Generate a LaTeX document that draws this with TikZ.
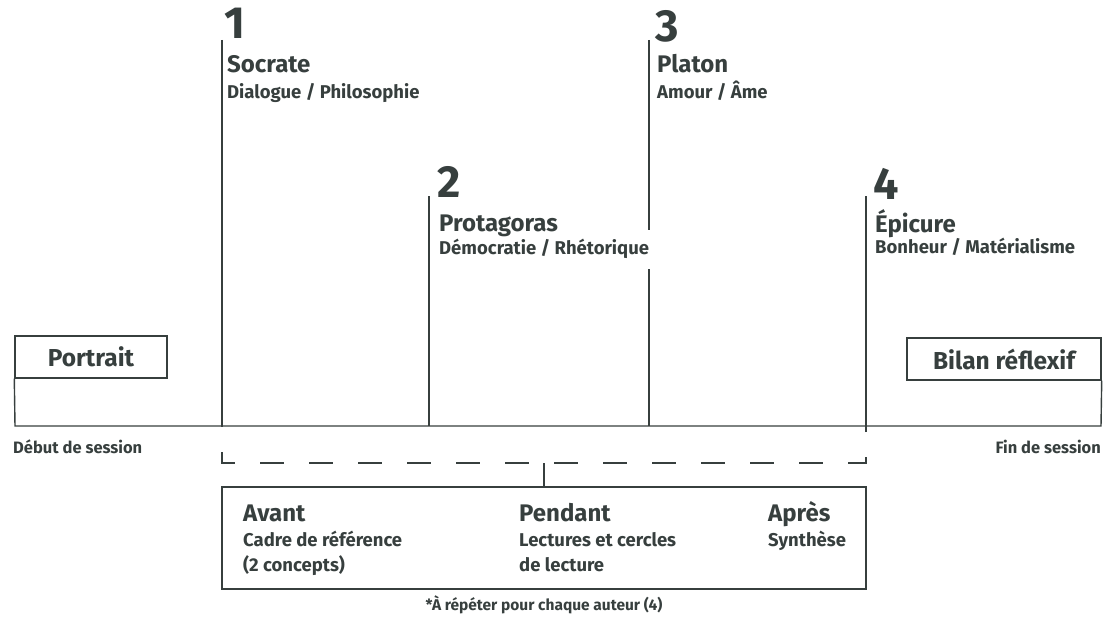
\documentclass[tikz,border=0pt]{standalone}
\usepackage{fontspec}
\setmainfont{Fira Sans}
\usepackage{tikz}

\definecolor{ardoise}{RGB}{55,63,62}
\tikzset{
  trait/.style={draw=ardoise, line width=1.4pt},
  pointille/.style={trait, dash pattern=on 24pt off 25pt, dash phase=23pt},
  numero/.style={anchor=base west, inner sep=0pt, text=ardoise, font=\fontsize{45}{45}\selectfont\bfseries},
  auteur/.style={anchor=base west, inner sep=0pt, text=ardoise, font=\fontsize{24}{24}\selectfont\bfseries},
  theme/.style={anchor=base west, inner sep=0pt, text=ardoise, font=\fontsize{18.5}{18.5}\selectfont\bfseries},
  cadre/.style={trait, text=ardoise, font=\fontsize{24.5}{24.5}\selectfont\bfseries},
  note/.style={inner sep=0pt, text=ardoise, font=\fontsize{16.5}{16.5}\selectfont\bfseries}
}

\begin{document}
\begin{tikzpicture}[x=1pt,y=-1pt]
          \useasboundingbox (0,0) rectangle (1116,623);
          \coordinate (debut) at (15,426);
          \coordinate (fin) at (1101,426);
          \coordinate (e1) at (222,426);
          \coordinate (e2) at (429,426);
          \coordinate (e3) at (649,426);
          \coordinate (e4) at (866,426);
          \coordinate (h1) at (222,40);
          \coordinate (h2) at (429,196);
          \coordinate (h3) at (649,40);
          \coordinate (h4) at (866,196);
          \coordinate (c3a) at (649,230);
          \coordinate (c3b) at (649,269);
          \coordinate (b1) at (222,463);
          \coordinate (b4) at (866,463);
          \coordinate (m) at (544,463);
          \node[cadre, minimum width=152pt, minimum height=42pt] (portrait) at (91,357) {Portrait};
          \node[cadre, minimum width=194pt, minimum height=42pt] (bilan) at (1004,359) {Bilan réflexif};
          \draw[trait] (portrait.south west) -- (debut) -- (fin) -- (bilan.south east);
          \draw[trait] (h1) -- (e1);
          \draw[trait] (h2) -- (e2);
          \draw[trait] (h3) -- (c3a);
          \draw[trait] (c3b) -- (e3);
          \draw[trait] (h4) -- (e4);
          \node[note, anchor=base west] (debutlbl) at (13,453) {Début de session};
          \node[note, anchor=base east] (finlbl) at (1101,453) {Fin de session};
          \node[numero] (n1) at (224,39) {1};
          \node[auteur] (a1) at (227,73) {Socrate};
          \node[theme] (t1) at (227,99) {Dialogue / Philosophie};
          \node[numero] (n2) at (437,197) {2};
          \node[auteur] (a2) at (439,231) {Protagoras};
          \node[theme] (t2) at (439,254) {Démocratie / Rhétorique};
          \node[numero] (n3) at (655,42) {3};
          \node[auteur] (a3) at (657,73) {Platon};
          \node[theme] (t3) at (657,99) {Amour / Âme};
          \node[numero] (n4) at (873,199) {4};
          \node[auteur] (a4) at (875,232) {Épicure};
          \node[theme] (t4) at (875,253) {Bonheur / Matérialisme};
          \draw[pointille] (e1) -- (b1) -- (b4) -- (e4);
          \node[trait, minimum width=644pt, minimum height=102pt] (etapes) at (544,538) {};
          \draw[trait] (m) -- (etapes.north);
          \node[auteur] (avant) at (243,521) {Avant};
          \node[theme] (avant1) at (243,546) {Cadre de référence};
          \node[theme] (avant2) at (243,571) {(2 concepts)};
          \node[auteur] (pendant) at (519,521) {Pendant};
          \node[theme] (pendant1) at (519,546) {Lectures et cercles};
          \node[theme] (pendant2) at (519,571) {de lecture};
          \node[auteur] (apres) at (768,521) {Après};
          \node[theme] (apres1) at (768,546) {Synthèse};
          \node[note, anchor=base, font=\fontsize{15.5}{15.5}\selectfont\bfseries] (repeter) at (544,610) {*À répéter pour chaque auteur (4)};
        \end{tikzpicture}
\end{document}
